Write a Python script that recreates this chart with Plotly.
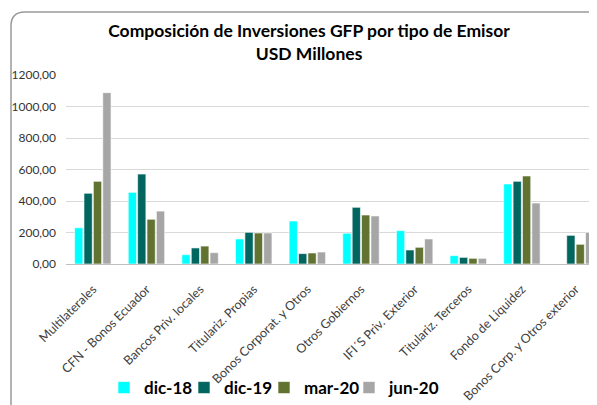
import plotly.graph_objects as go

# Categories and series (USD millones)
categories = ['Multilaterales', 'CFN - Bonos Ecuador', 'Bancos Priv. locales',
              'Titulariz. Propias', 'Bonos Corporat. y Otros', 'Otros Gobiernos',
              "IFI´S Priv. Exterior", 'Titulariz. Terceros', 'Fondo de Liquidez',
              'Bonos Corp. y Otros exterior']
dic_18 = [230, 455, 59, 159, 273, 195, 212, 53, 508, 0]
dic_19 = [449, 571, 102, 201, 66, 360, 89, 42, 525, 182]
mar_20 = [525, 284, 114, 197, 70, 311, 106, 36, 559, 125]
jun_20 = [1088, 336, 72, 197, 76, 305, 159, 36, 387, 201]

# name, values, colour, legend entry width (px)
series = [('dic-18', dic_18, '#00ffff', 35),
          ('dic-19', dic_19, '#00665f', 35),
          ('mar-20', mar_20, '#627331', 40),
          ('jun-20', jun_20, '#a6a6a6', 52)]

y_ticks = [0, 200, 400, 600, 800, 1000, 1200]

fig = go.Figure()
for name, vals, color, lw in series:
    fig.add_trace(go.Bar(
        x=categories, y=vals, name=name, legendwidth=lw,
        marker=dict(color=color, line=dict(color='white', width=0.6)),
    ))

# the page has an 8px body margin, so the figure is 8px smaller than the window
OFF = 8
FW, FH = 597 - OFF, 405 - OFF
# plot area in window pixels: left 66, top 75, bottom 264, right edge of window
L, T, B = 66 - OFF, 75 - OFF, FH - (264 - OFF)
W, H = FW - L, FH - T - B


def px(x):
    return (x - OFF - L) / W


def py(y):
    return (FH - B - (y - OFF)) / H


# rounded frame (left and top edges, cut off at right / bottom)
r = 14
frame = (f'M {px(11)},{py(430)} L {px(11)},{py(12 + r)} '
         f'Q {px(11)},{py(12)} {px(11 + r)},{py(12)} L {px(640)},{py(12)}')

FONT = 'Lato'

fig.update_layout(
    width=FW, height=FH,
    margin=dict(l=L, r=0, t=T, b=B, autoexpand=False),
    paper_bgcolor='white', plot_bgcolor='white',
    separators=',.',
    barmode='group', bargap=0.3, bargroupgap=0.12,
    font=dict(family=FONT, color='#404040'),
    title=dict(
        text='Composición de Inversiones GFP por tipo de Emisor<br>USD Millones',
        x=(309 - OFF) / FW, xanchor='center', y=1 - 29 / FH, yanchor='middle',
        font=dict(family=FONT, size=17.5, color='black', weight='bold'),
    ),
    xaxis=dict(
        range=[-0.5, 9.4], tickangle=-45, showgrid=False, automargin=False,
        tickfont=dict(size=12.5, color='#404040'),
        showline=False, ticks='outside', ticklen=12, tickcolor='rgba(0,0,0,0)',
    ),
    yaxis=dict(
        range=[0, 1200], tickvals=y_ticks, tickformat='.2f', automargin=False,
        gridcolor='#d9d9d9', gridwidth=1, zeroline=True,
        zerolinecolor='#bfbfbf', zerolinewidth=1,
        tickfont=dict(size=12, color='#333333'), ticks='',
        ticklabelstandoff=9,
    ),
    legend=dict(
        orientation='h', x=px(104), xanchor='left', y=py(388), yanchor='middle',
        font=dict(family=FONT, size=17, color='black', weight='bold'),
        itemwidth=30, bgcolor='rgba(0,0,0,0)', tracegroupgap=0,
    ),
    shapes=[dict(type='path', path=frame, xref='paper', yref='paper',
                 line=dict(color='#9a9a9a', width=1.5), layer='above')],
)

fig.write_html('out.html')
